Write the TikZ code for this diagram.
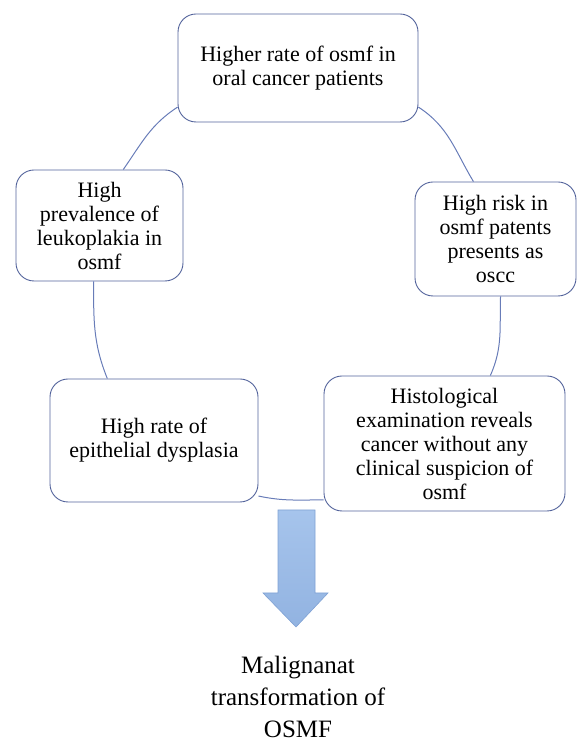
\documentclass[tikz,border=0pt]{standalone}
\usepackage{fontspec}
\setmainfont{Liberation Serif}
\usetikzlibrary{arrows.meta,positioning}
\definecolor{BoxLine}{RGB}{84,100,156}
\definecolor{RingLine}{RGB}{104,124,184}
\definecolor{ArrowTop}{RGB}{166,196,236}
\definecolor{ArrowBot}{RGB}{146,179,225}
\definecolor{ArrowLine}{RGB}{128,162,212}

\begin{document}
\begin{tikzpicture}[x=1pt, y=1pt,
  every node/.style={font=\fontsize{22}{24}\selectfont},
  box/.style={draw=BoxLine, line width=0.9pt, rounded corners=18pt, fill=white, align=center, inner sep=2pt},
  ring/.style={draw=RingLine, line width=1pt}]
\useasboundingbox (0,0) rectangle (578,742);
% the five findings round the ring
\node[box, minimum width=240pt, minimum height=108pt] (top) at (298,674) {Higher rate of osmf in\\oral cancer patients};
\node[box, minimum width=167pt, minimum height=111pt] (lft) at (99.5,516.5) {High\\prevalence of\\leukoplakia in\\osmf};
\node[box, minimum width=161pt, minimum height=114pt] (rgt) at (495.5,503) {High risk in\\osmf patents\\presents as\\oscc};
\node[box, minimum width=208pt, minimum height=123pt] (bl) at (154,301.5) {High rate of\\epithelial dysplasia};
\node[box, minimum width=241pt, minimum height=135pt] (br) at (444.5,298.5) {Histological\\examination reveals\\cancer without any\\clinical suspicion of\\osmf};
% ring connectors
\draw[ring] (top.198) to[out=213, in=55] (lft.67);
\draw[ring] (top.-18) to[out=-33, in=121] (rgt.111);
\draw[ring] (lft.264) to[out=270, in=112] (bl.127);
\draw[ring] (rgt.-85) to[out=-92, in=66] (br.56);
\draw[ring] (bl.-28) to[out=-12, in=180] (br.205);
% block arrow and outcome
\shade[top color=ArrowTop, bottom color=ArrowBot, draw=ArrowLine, line width=0.6pt]
  (278,232) -- (315,232) -- (315,149) -- (328,149) -- (296,115) -- (263,149) -- (278,149) -- cycle;
\node[font=\fontsize{25}{32}\selectfont, align=center, inner sep=0pt] (result) at (298,45) {Malignanat\\transformation of\\OSMF};
\end{tikzpicture}
\end{document}
